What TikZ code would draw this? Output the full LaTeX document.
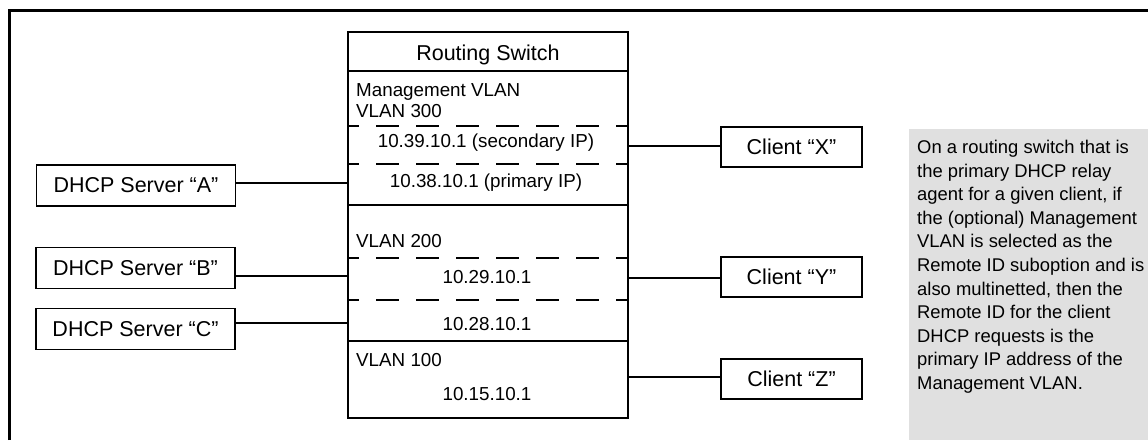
\documentclass[tikz,border=0pt]{standalone}
\usepackage{fontspec}
\setmainfont{Liberation Sans}
\usepackage{tikz}
\definecolor{notegray}{RGB}{224,224,224}

\begin{document}
\begin{tikzpicture}[x=1pt,y=-1pt,
  box/.style={draw,line width=1.3pt,minimum width=199pt,minimum height=41pt,inner sep=0pt,font=\fontsize{21.5}{24}\selectfont},
  client/.style={box,minimum width=141pt,minimum height=40pt},
  vlan/.style={anchor=base,inner sep=0pt,font=\fontsize{18.8}{21}\selectfont},
  sep/.style={line width=1.4pt},
  dsep/.style={line width=1.3pt,dash pattern=on 23pt off 17pt,dash phase=11pt},
  wire/.style={line width=1.1pt}]
\useasboundingbox (0,0) rectangle (1148,440);
\fill[notegray] (909,129) rectangle (1148,440);
\draw[line width=3pt] (9.7,440) -- (9.7,10) -- (1148,10);

\node[draw,line width=1.3pt,minimum width=280pt,minimum height=386pt,inner sep=0pt] (rs) at (488,225) {};
\node[vlan,font=\fontsize{21.5}{24}\selectfont] (title) at (488,60) {Routing Switch};
\foreach \y in {71,205,341} \draw[sep] (rs.west |- 0,\y) -- (rs.east |- 0,\y);
\foreach \y in {126,164,258,300} \draw[dsep] (rs.west |- 0,\y) -- (rs.east |- 0,\y);

\node[vlan,anchor=north west,align=left] (mgmt) at (356,83) {Management VLAN\\VLAN 300};
\node[vlan] (ip39) at (486,147) {10.39.10.1 (secondary IP)};
\node[vlan] (ip38) at (486,187) {10.38.10.1 (primary IP)};
\node[vlan,anchor=base west] (v200) at (356,247) {VLAN 200};
\node[vlan] (ip29) at (487,283) {10.29.10.1};
\node[vlan] (ip28) at (487,330) {10.28.10.1};
\node[vlan,anchor=base west] (v100) at (356,366) {VLAN 100};
\node[vlan] (ip15) at (487,400) {10.15.10.1};

\node[box] (srvA) at (136,185.5) {DHCP Server “A”};
\node[box] (srvB) at (135.5,268) {DHCP Server “B”};
\node[box] (srvC) at (135.5,329) {DHCP Server “C”};
\node[client] (cliX) at (791.5,147) {Client “X”};
\node[client] (cliY) at (791.5,277) {Client “Y”};
\node[client] (cliZ) at (791.5,379) {Client “Z”};

\coordinate (pA) at (rs.west |- 0,183);
\coordinate (pB) at (rs.west |- 0,276);
\coordinate (pC) at (rs.west |- 0,323);
\coordinate (pX) at (rs.east |- 0,146);
\coordinate (pY) at (rs.east |- 0,278);
\coordinate (pZ) at (rs.east |- 0,377);
\draw[wire] (srvA.east |- pA) -- (pA);
\draw[wire] (srvB.east |- pB) -- (pB);
\draw[wire] (srvC.east |- pC) -- (pC);
\draw[wire] (pX) -- (cliX.west |- pX);
\draw[wire] (pY) -- (cliY.west |- pY);
\draw[wire] (pZ) -- (cliZ.west |- pZ);

\node[anchor=north west,align=left,inner sep=0pt,font=\fontsize{18.4}{23.6}\selectfont] (note) at (917,140) {On a routing switch that is\\the primary DHCP relay\\agent for a given client, if\\the (optional) Management\\VLAN is selected as the\\Remote ID suboption and is\\also multinetted, then the\\Remote ID for the client\\DHCP requests is the\\primary IP address of the\\Management VLAN.};
\end{tikzpicture}
\end{document}
